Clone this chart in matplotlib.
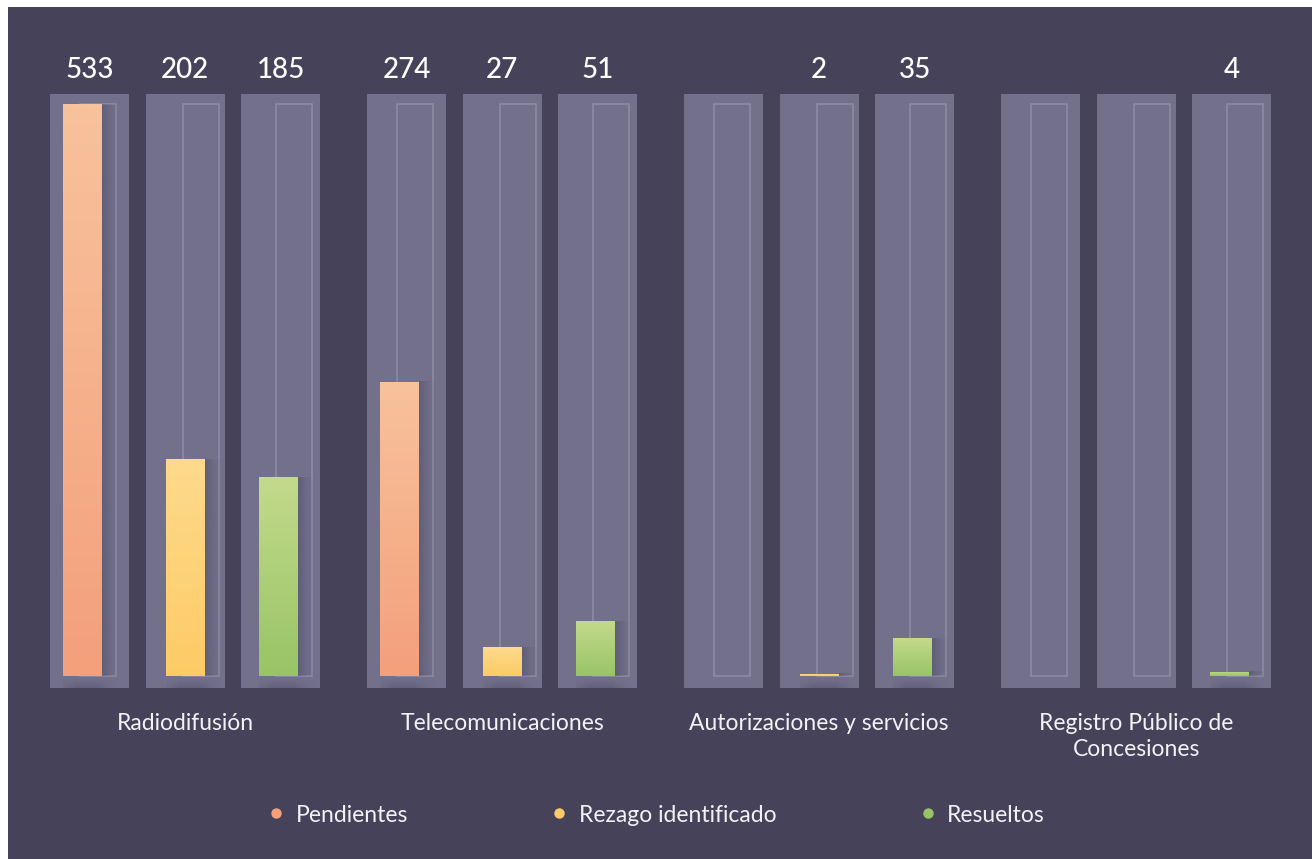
import numpy as np
import matplotlib
matplotlib.use("Agg")
import matplotlib.pyplot as plt
from matplotlib.patches import Rectangle
from matplotlib.lines import Line2D
from matplotlib.colors import to_rgb

# ---------------- data ----------------
categories = ["Radiodifusión", "Telecomunicaciones", "Autorizaciones y servicios",
              "Registro Público de\nConcesiones"]
series = ["Pendientes", "Rezago identificado", "Resueltos"]
pendientes = [533, 274, 0, 0]
rezago = [202, 27, 2, 0]
resueltos = [185, 51, 35, 4]
values = [pendientes, rezago, resueltos]

colors_bottom = ["#F3A07B", "#FDCB66", "#98C466"]
colors_top = ["#F8C29C", "#FDDA8C", "#C3DA8C"]

# ---------------- style ----------------
BG = "#45425A"
PANEL = "#72708A"
OUTLINE = "#8F8DA6"
SHADOW = "#4E4D66"
FONT = ["Lato", "DejaVu Sans"]
plt.rcParams["font.family"] = FONT

W, H = 1312, 859
fig = plt.figure(figsize=(W / 100, H / 100), dpi=100, facecolor="white")
fig.patches.append(Rectangle((8 / W, 0), 1 - 8 / W, 1 - 7 / H, transform=fig.transFigure,
                             facecolor=BG, edgecolor="none", zorder=-10))

ax = fig.add_axes([8 / W, (H - 688) / H, 1 - 8 / W, 594 / H])
ax.set_facecolor("none")
ax.axis("off")

step = 95.7                 # pixels per slot
gstep = 317 / step          # group spacing in slot units
vmax = max(max(s) for s in values)
px = 572 / vmax             # pixels per value unit

xlim = ((8 - 89.5) / step, (1312 - 89.5) / step)
ylim = (-12 / px, vmax + 10 / px)

group_x = np.arange(len(categories)) * gstep

panel_w = 79 / step
bar_left_px = [13, 20, 18]     # bar offset from panel left edge, per series (px)
bar_w = 39 / step
out_shift = 17 / step          # outline starts this far right of bar's left edge
out_w = 36 / step
sh_w = 18 / step

for j, vals in enumerate(values):
    pos = group_x + j
    bar_off = -panel_w / 2 + bar_left_px[j] / step
    # background panels and track outlines
    for p in pos:
        ax.add_patch(Rectangle((p - panel_w / 2, ylim[0]), panel_w, ylim[1] - ylim[0],
                               facecolor=PANEL, edgecolor="none", zorder=1))
        ax.add_patch(Rectangle((p + bar_off + out_shift, 0), out_w, vmax, facecolor="none",
                               edgecolor=OUTLINE, lw=1.1, zorder=2))
    bars = ax.bar(pos + bar_off, vals, width=bar_w, align="edge",
                  color=colors_bottom[j], edgecolor="none", zorder=4)
    c0 = np.array(to_rgb(colors_top[j]))
    c1 = np.array(to_rgb(colors_bottom[j]))
    t = np.linspace(0, 1, 64)[:, None]
    grad = (c0[None, :] * (1 - t) + c1[None, :] * t)[:, None, :]
    sc = np.array(to_rgb(SHADOW))
    for p, b, v in zip(pos, bars, vals):
        if v <= 0:
            continue
        x0, x1 = b.get_x(), b.get_x() + b.get_width()
        im = ax.imshow(grad, extent=[x0, x1, 0, v], aspect="auto", zorder=5,
                       interpolation="bilinear")
        im.set_clip_path(b)
        # right-side soft shadow
        a = (np.linspace(1, 0, 32) ** 1.6)[None, :] * 0.5
        rgba = np.zeros((2, 32, 4))
        rgba[..., :3] = sc
        rgba[..., 3] = a
        ax.imshow(rgba, extent=[x1, x1 + sh_w, 0, v], aspect="auto", zorder=3,
                  interpolation="bilinear")
        # bottom soft shadow
        ay = (np.linspace(1, 0, 24) ** 1.5)[:, None] * 0.45
        axx = np.concatenate([np.linspace(0.3, 1, 10), np.ones(14),
                              np.linspace(1, 0, 16) ** 1.6])[None, :]
        rgba2 = np.zeros((24, axx.shape[1], 4))
        rgba2[..., :3] = sc
        rgba2[..., 3] = ay * axx
        ax.imshow(rgba2, extent=[x0, x1 + sh_w, 0, -12 / px], aspect="auto", zorder=3,
                  interpolation="bilinear", origin="upper")
        ax.annotate(f"{v}", xy=(p, 1), xycoords=("data", "axes fraction"),
                    xytext=(0, 16 * 0.72), textcoords="offset points",
                    ha="center", va="baseline", fontsize=20, color="white",
                    fontweight="medium")

for gx, cat in zip(group_x, categories):
    ax.annotate(cat, xy=(gx + 1, 0), xycoords=("data", "axes fraction"),
                xytext=(0, -25 * 0.72), textcoords="offset points",
                ha="center", va="top", fontsize=16.5, color="#F2F2F6",
                linespacing=1.32)

ax.set_xlim(*xlim)
ax.set_ylim(*ylim)

handles = [Line2D([], [], marker="o", linestyle="none", markersize=7.5,
                  markerfacecolor=colors_bottom[j], markeredgecolor="none", label=s)
           for j, s in enumerate(series)]
leg = fig.legend(handles=handles, loc="center", bbox_to_anchor=(657 / W, (H - 815) / H),
                 ncol=3, frameon=False, fontsize=16.5, handlelength=0.6,
                 handletextpad=0.55, columnspacing=6.3, labelcolor="#F2F2F6")

fig.savefig("out.png", dpi=100, facecolor=fig.get_facecolor())
